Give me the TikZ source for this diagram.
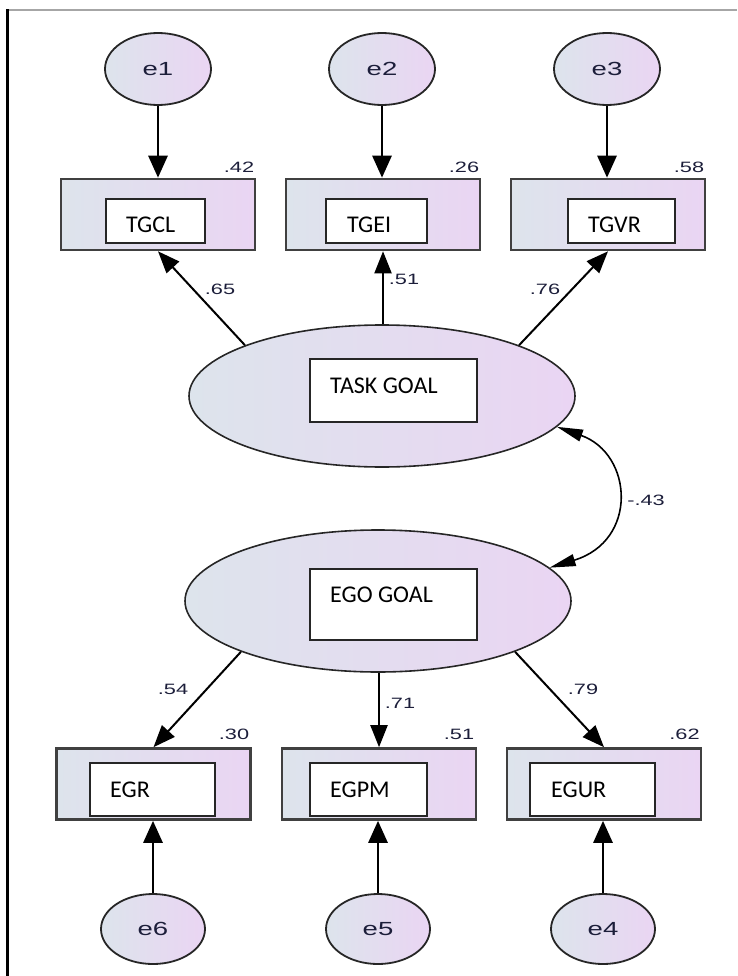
\documentclass[tikz,border=0pt]{standalone}
\usepackage{fontspec}
\usepackage{graphicx}
\usetikzlibrary{shapes.geometric}
\usetikzlibrary{arrows.meta}
\newfontfamily\calibrifont{Carlito}
\newfontfamily\arialfont{Liberation Sans}
\definecolor{semgray}{RGB}{221,228,236}
\definecolor{sempurple}{RGB}{234,213,243}
\definecolor{numink}{RGB}{28,30,58}
\newcommand{\estim}[1]{\scalebox{1.45}[1]{#1}}

\tikzset{
	errvar/.style={ellipse, draw=black!85, line width=1.8pt, left color=semgray, right color=sempurple,
		minimum width=106pt, minimum height=72pt, inner sep=0pt,
		font=\arialfont\fontsize{19}{22}\selectfont, text=numink},
	latent/.style={ellipse, draw=black!85, line width=1.6pt, left color=semgray, right color=sempurple,
		minimum width=386pt, minimum height=142pt, inner sep=0pt},
	obsbox/.style={rectangle, draw=black!75, line width=2.6pt, left color=semgray, right color=sempurple,
		minimum width=194pt, minimum height=71pt, inner sep=0pt},
	namebox/.style={rectangle, draw=black!85, line width=1.2pt, fill=white, inner sep=0pt},
	vname/.style={anchor=west, inner sep=0pt, font=\calibrifont\fontsize{24}{28}\selectfont},
	num/.style={inner sep=0pt, text=numink, font=\arialfont\fontsize{15}{17}\selectfont},
	errarrow/.style={line width=2.8pt, -{Triangle[length=22pt,width=19pt]}},
	loadarrow/.style={line width=2pt, -{Triangle[length=22pt,width=17pt]}},
	covarrow/.style={line width=1.6pt, {Triangle[length=26pt,width=12pt]}-{Triangle[length=26pt,width=12pt]}}
}

\begin{document}
\begin{tikzpicture}[x=1pt, y=-1pt]
	\useasboundingbox (0,0) rectangle (737,976);
	% frame
	\draw[gray!70, line width=1.5pt] (7.5,10) -- (737,10);
	\draw[line width=2.5pt] (7.5,9.3) -- (7.5,976);

	% task goal part
	\node[errvar] (e1) at (158,69) {\estim{e1}};
	\node[errvar] (e2) at (382,69) {\estim{e2}};
	\node[errvar] (e3) at (607,69) {\estim{e3}};

	\node[obsbox] (tgcl) at (158,214.5) {};
	\node[obsbox] (tgei) at (383,214.5) {};
	\node[obsbox] (tgvr) at (608,214.5) {};
	\node[namebox, minimum width=99pt, minimum height=44pt] (tgclbox) at (155.5,221) {};
	\node[namebox, minimum width=101pt, minimum height=44pt] (tgeibox) at (376.5,221) {};
	\node[namebox, minimum width=107pt, minimum height=44pt] (tgvrbox) at (621.5,221) {};
	\node[vname] (tgcltext) at (126,225) {TGCL};
	\node[vname] (tgeitext) at (347,225) {TGEI};
	\node[vname] (tgvrtext) at (588,225) {TGVR};

	\node[latent] (task) at (382,396) {};
	\node[namebox, minimum width=167pt, minimum height=63pt] (taskbox) at (393.5,390.5) {};
	\node[vname] (tasktext) at (330,386) {TASK GOAL};

	\draw[errarrow] (e1) -- (e1 |- tgcl.north);
	\draw[errarrow] (e2) -- (e2 |- tgei.north);
	\draw[errarrow] (e3) -- (e3 |- tgvr.north);

	\draw[loadarrow] (task.north west) -- (tgcl.south);
	\draw[loadarrow] (tgei.south |- task.north) -- (tgei.south);
	\draw[loadarrow] (task.north east) -- (tgvr.south);

	\node[num] (r42) at (239,167) {\estim{.42}};
	\node[num] (r26) at (464,167) {\estim{.26}};
	\node[num] (r58) at (689,167) {\estim{.58}};
	\node[num] (w65) at (220,289) {\estim{.65}};
	\node[num] (w51) at (404,279) {\estim{.51}};
	\node[num] (w76) at (545,289) {\estim{.76}};

	% ego goal part
	\node[latent] (ego) at (378,601) {};
	\node[namebox, minimum width=167pt, minimum height=71pt] (egobox) at (393.5,604.5) {};
	\node[vname] (egotext) at (330,595) {EGO GOAL};

	\node[obsbox] (egr) at (153.5,784) {};
	\node[obsbox] (egpm) at (379,784) {};
	\node[obsbox] (egur) at (604,784) {};
	\node[namebox, minimum width=125pt, minimum height=53pt] (egrbox) at (152.5,789.5) {};
	\node[namebox, minimum width=117pt, minimum height=53pt] (egpmbox) at (368.5,789.5) {};
	\node[namebox, minimum width=125pt, minimum height=53pt] (egurbox) at (592.5,789.5) {};
	\node[vname] (egrtext) at (110,790) {EGR};
	\node[vname] (egpmtext) at (330,790) {EGPM};
	\node[vname] (egurtext) at (551,790) {EGUR};

	\node[errvar, minimum width=104pt, minimum height=70pt] (e6) at (153,929) {\estim{e6}};
	\node[errvar, minimum width=104pt, minimum height=70pt] (e5) at (378,929) {\estim{e5}};
	\node[errvar, minimum width=104pt, minimum height=70pt] (e4) at (603,929) {\estim{e4}};

	\draw[loadarrow] (ego.south west) -- (egr.north);
	\draw[loadarrow] (egpm.north |- ego.south) -- (egpm.north);
	\draw[loadarrow] (ego.south east) -- (egur.north);

	\draw[errarrow] (e6) -- (e6 |- egr.south);
	\draw[errarrow] (e5) -- (e5 |- egpm.south);
	\draw[errarrow] (e4) -- (e4 |- egur.south);

	\node[num] (w54) at (173,689) {\estim{.54}};
	\node[num] (w71) at (400,703) {\estim{.71}};
	\node[num] (w79) at (583,689) {\estim{.79}};
	\node[num] (r30) at (234,734) {\estim{.30}};
	\node[num] (r51) at (459,734) {\estim{.51}};
	\node[num] (r62) at (684.5,734) {\estim{.62}};

	% correlation
	\draw[covarrow] (task.-10) .. controls +(76,27) and +(89,-27) .. (ego.11);
	\node[num] (c43) at (646,500) {\estim{-.43}};
\end{tikzpicture}
\end{document}
